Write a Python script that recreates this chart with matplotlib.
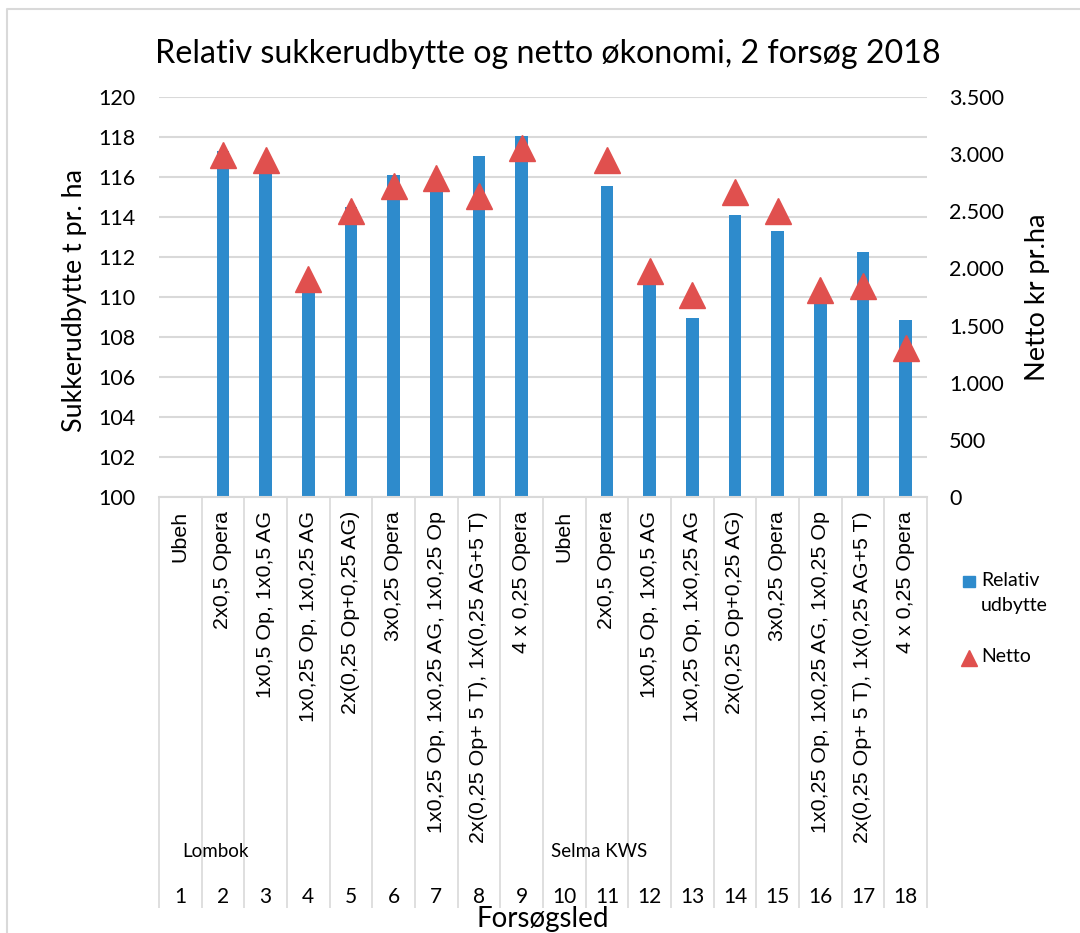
"""
Relativ sukkerudbytte og netto okonomi, 2 forsog 2018 (bars + triangles on twin axis)
"""

import matplotlib
matplotlib.use('Agg')
import matplotlib.pyplot as plt
from matplotlib.lines import Line2D
from matplotlib.patches import Rectangle
from matplotlib.ticker import FuncFormatter
import numpy as np

W, H = 1080, 933

slots = list(range(1, 19))
treatments = ["Ubeh", "2x0,5 Opera", "1x0,5 Op, 1x0,5 AG",
              "1x0,25 Op, 1x0,25 AG", "2x(0,25 Op+0,25 AG)", "3x0,25 Opera",
              "1x0,25 Op, 1x0,25 AG, 1x0,25 Op",
              "2x(0,25 Op+ 5 T), 1x(0,25 AG+5 T)", "4 x 0,25 Opera"] * 2
groups = ["Lombok", "Selma KWS"]
group_start = [1, 10]

relativ = [np.nan, 117.3, 116.6, 110.3, 114.5, 116.1, 115.7, 117.05, 118.05,
           np.nan, 115.55, 110.65, 108.95, 114.1, 113.3, 109.9, 112.25, 108.85]
netto = [np.nan, 2990, 2950, 1905, 2500, 2725, 2790, 2630, 3055,
         np.nan, 2950, 1980, 1770, 2665, 2500, 1810, 1845, 1300]

left_ticks = list(range(100, 121, 2))
right_ticks = list(range(0, 3501, 500))

BLUE = '#2E8BCC'
RED = '#E0504E'
GRID = '#D9D9D9'
MAIN_FONT = ['Lato', 'DejaVu Sans']
CAT_FONT = ['Liberation Sans', 'DejaVu Sans']


def fx(x):
    return x / W


def fy(y):
    return 1 - y / H


def main():
    plt.rcParams['font.family'] = MAIN_FONT
    fig = plt.figure(figsize=(W / 100, H / 100), dpi=100)
    ax = fig.add_axes([fx(159), fy(497), (927 - 159) / W, (497 - 97) / H])

    x = np.array(slots)
    ax.bar(x, relativ, width=0.3, color=BLUE, zorder=2)
    ax.set_xlim(0.5, 18.5)
    ax.set_ylim(100, 120)
    ax.set_yticks(left_ticks)
    ax.yaxis.grid(True, color=GRID, lw=1.5, zorder=0)
    ax.set_axisbelow(True)
    ax.set_xticks([])
    ax.tick_params(axis='y', length=0, pad=17, labelsize=15.5, colors='#000000')
    for s in ['top', 'left', 'right']:
        ax.spines[s].set_visible(False)
    ax.spines['bottom'].set_color(GRID)
    ax.spines['bottom'].set_linewidth(1.5)

    ax2 = ax.twinx()
    ax2.plot(x, netto, ls='none', marker='^', ms=19, color=RED,
             mec=RED, zorder=5)
    ax2.set_ylim(0, 3500)
    ax2.set_yticks(right_ticks)
    ax2.yaxis.set_major_formatter(
        FuncFormatter(lambda v, p: "{:,.0f}".format(v).replace(',', '.')))
    ax2.tick_params(axis='y', length=0, pad=16, labelsize=15.5)
    for s in ['top', 'left', 'right', 'bottom']:
        ax2.spines[s].set_visible(False)

    # category axis: separators, treatment names, groups, numbers
    trans = ax.get_xaxis_transform()
    bounds = np.arange(0.5, 19.0, 1.0)
    ax.vlines(bounds, 0, -1.0275, transform=trans, colors=GRID, lw=1.2,
              clip_on=False)
    for xi, lab in zip(x, treatments):
        ax.text(xi, -0.035, lab, transform=trans, rotation=90, ha='center',
                va='top', fontsize=15.4, family=CAT_FONT)
        ax.text(xi, -1.0, str(xi), transform=trans, ha='center',
                va='center', fontsize=15)
    for g, st in zip(groups, group_start):
        ax.text(st + 0.82, -0.885, g, transform=trans, ha='center',
                va='center', fontsize=13.5)
    ax.text(0.5, -1.055, "Forsøgsled", transform=ax.transAxes, ha='center',
            va='center', fontsize=20)

    fig.text(fx(548), fy(63), "Relativ sukkerudbytte og netto økonomi, 2 forsøg 2018",
             ha='center', va='baseline', fontsize=23.2)
    fig.text(fx(75), fy(301), "Sukkerudbytte t pr. ha", rotation=90,
             ha='center', va='center', fontsize=19.3)
    fig.text(fx(1037), fy(297), "Netto kr pr.ha", rotation=90,
             ha='center', va='center', fontsize=19.5)

    # legend
    fig.patches.append(Rectangle((fx(963), fy(587)), 12 / W, 11 / H,
                                 transform=fig.transFigure, color=BLUE))
    fig.lines.append(Line2D([fx(969)], [fy(658)], marker='^', ms=11,
                            color=RED, transform=fig.transFigure))
    fig.text(fx(981), fy(580), "Relativ", va='center', fontsize=14)
    fig.text(fx(981), fy(606), "udbytte", va='center', fontsize=14)
    fig.text(fx(981), fy(657), "Netto", va='center', fontsize=14)

    # chart border
    fig.lines.append(Line2D([fx(7), fx(7), fx(1080)], [0, fy(9), fy(9)],
                            color=GRID, lw=1.5, transform=fig.transFigure))

    fig.savefig("out.png", dpi=100)


if __name__ == '__main__':
    main()
